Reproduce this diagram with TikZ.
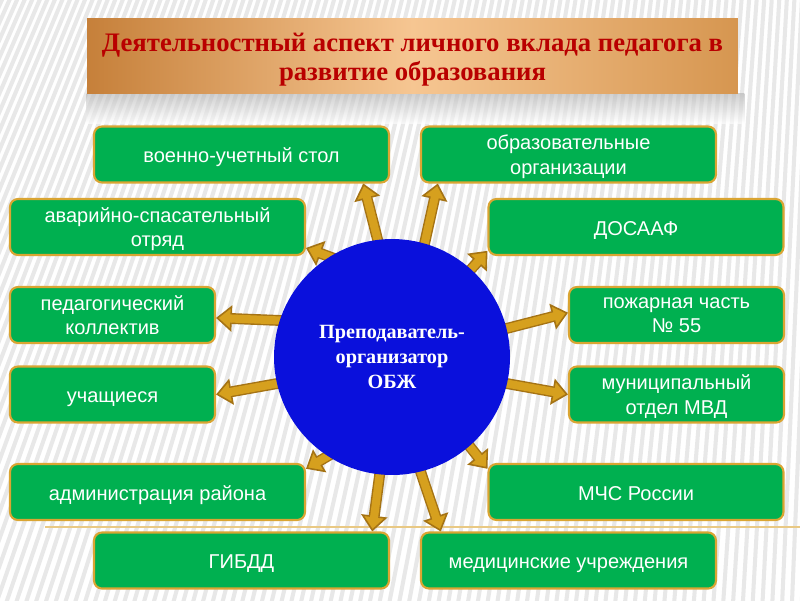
\documentclass[tikz,border=0pt]{standalone}
\usepackage{fontspec}
\setmainfont{Liberation Serif}
\newfontfamily\boxfont{Liberation Sans}
\usetikzlibrary{arrows.meta,calc,backgrounds}

\definecolor{boxgreen}{RGB}{0,176,80}
\definecolor{boxrim}{RGB}{218,165,50}
\definecolor{arrowgold}{RGB}{214,160,30}
\definecolor{arrowrim}{RGB}{165,115,20}
\definecolor{hubblue}{RGB}{10,16,220}
\definecolor{titlered}{RGB}{185,0,0}
\definecolor{titledark}{RGB}{198,128,58}
\definecolor{titlelight}{RGB}{246,198,146}
\definecolor{titleright}{RGB}{214,150,80}

\tikzset{
  orgbox/.style={draw=boxrim, line width=1.2pt, fill=boxgreen, rounded corners=4.5pt,
    text=white, font=\boxfont\fontsize{11.4}{14}\selectfont, align=center,
    minimum height=1.12cm, inner sep=0pt, text depth=0pt,
    execute at begin node={\rule{0pt}{9.5pt}}},
  widebox/.style={orgbox, minimum width=5.9cm},
  shortbox/.style={orgbox, minimum width=4.2cm},
  goldarrow/.style={draw=arrowrim, line width=6.2pt, shorten <=-8pt,
    -{Triangle[width=15pt, length=9pt, fill=arrowgold, line width=0.9pt]},
    postaction={draw=arrowgold, line width=4.6pt, -, shorten >=7.5pt, shorten <=-8pt}},
  stripe/.style={draw=black!9, line width=2.3pt}
}

\begin{document}
\begin{tikzpicture}[x=0.02cm, y=-0.02cm]
    \useasboundingbox (0,0) rectangle (800,600);

    % title
    \node[shade, left color=titledark, right color=titleright, middle color=titlelight,
          minimum width=13.02cm, minimum height=1.5cm, text=titlered, align=center,
          font=\bfseries\fontsize{15.2}{16.5}\selectfont] (title) at (412.5,55.5)
        {\rule{0pt}{15pt}Деятельностный аспект личного вклада педагога в\\развитие образования};

    % centre
    \node[circle, fill=hubblue, minimum size=4.72cm, text=white, align=center,
          font=\bfseries\fontsize{11.5}{14}\selectfont] (hub) at (392,357)
        {Преподаватель-\\организатор\\ОБЖ};

    % left column
    \node[widebox] (mil) at (241.5,154.5) {военно-учетный стол};
    \node[widebox] (rescue) at (157.5,227) {аварийно-спасательный\\отряд};
    \node[shortbox, minimum width=4.1cm] (staff) at (112.5,315) {педагогический\\коллектив};
    \node[shortbox, minimum width=4.1cm] (pupils) at (112.5,394.5) {учащиеся};
    \node[widebox] (admin) at (157.5,492) {администрация района};
    \node[widebox] (gibdd) at (241.5,560.5) {ГИБДД};

    % right column
    \node[widebox] (edu) at (568.5,154.5) {образовательные\\организации};
    \node[widebox] (dosaaf) at (636,227) {ДОСААФ};
    \node[shortbox, minimum width=4.3cm] (fire) at (676.5,315) {пожарная часть\\№ 55};
    \node[shortbox, minimum width=4.3cm] (mvd) at (676.5,394.5) {муниципальный\\отдел МВД};
    \node[widebox] (mchs) at (636,492) {МЧС России};
    \node[widebox] (med) at (568.5,560.5) {медицинские учреждения};

    \begin{scope}[on background layer]
        \fill[white] (0,0) rectangle (800,600);
        \begin{scope}
            \clip (0,0) rectangle (800,600);
            \foreach \x in {-300,-290,...,900}
                \draw[stripe] (900,-2000) -- (\x,650);
        \end{scope}
        \shade[top color=black!30, bottom color=white, opacity=0.6]
            (title.south west) rectangle ($(title.south east)+(6,30)$);
        \draw[boxrim!60, line width=0.8pt] (45,527) -- (800,527);

        % arrows
        \draw[goldarrow] (hub.97.5) -- ($(mil.south west)!0.91!(mil.south east)$);
        \draw[goldarrow] (hub.74) -- ($(edu.south west)!0.06!(edu.south east)$);
        \draw[goldarrow] (hub.122) -- ($(rescue.north east)!0.86!(rescue.south east)$);
        \draw[goldarrow] (hub.48) -- ($(dosaaf.north west)!0.91!(dosaaf.south west)$);
        \draw[goldarrow] (hub.162) -- ($(staff.north east)!0.55!(staff.south east)$);
        \draw[goldarrow] (hub.14) -- ($(fire.north west)!0.46!(fire.south west)$);
        \draw[goldarrow] (hub.193) -- ($(pupils.north east)!0.5!(pupils.south east)$);
        \draw[goldarrow] (hub.-13) -- ($(mvd.north west)!0.5!(mvd.south west)$);
        \draw[goldarrow] (hub.237) -- ($(admin.north east)!0.1!(admin.south east)$);
        \draw[goldarrow] (hub.-49) -- ($(mchs.north west)!0.1!(mchs.south west)$);
        \draw[goldarrow] (hub.264) -- ($(gibdd.north west)!0.94!(gibdd.north east)$);
        \draw[goldarrow] (hub.284) -- ($(med.north west)!0.07!(med.north east)$);
    \end{scope}
\end{tikzpicture}
\end{document}
